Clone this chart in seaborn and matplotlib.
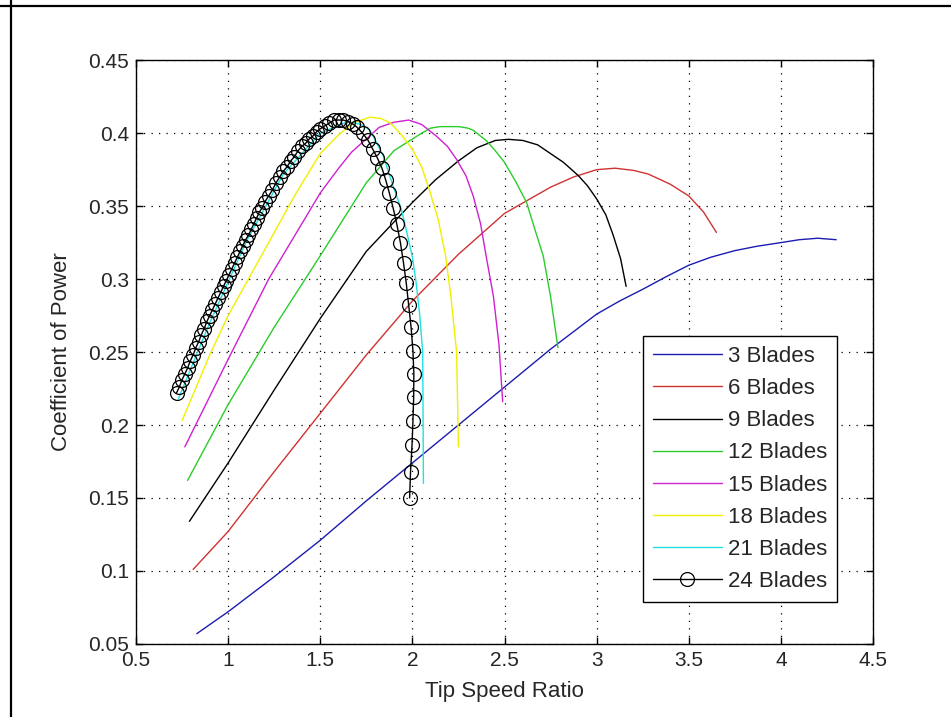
import seaborn as sns
import matplotlib
matplotlib.use("Agg")
import matplotlib.pyplot as plt
from matplotlib.lines import Line2D
import pandas as pd

# Data (tip speed ratio vs power coefficient)
tsr_3 = [0.83, 1.0, 1.25, 1.5, 1.75, 2.0, 2.25, 2.5, 2.75, 3.0, 3.125, 3.25, 3.375,
         3.5, 3.62, 3.75, 3.87, 4.0, 4.1, 4.2, 4.30]
cp_3 = [0.057, 0.072, 0.096, 0.121, 0.148, 0.174, 0.200, 0.226, 0.252, 0.276, 0.285, 0.293, 0.3015,
        0.3095, 0.315, 0.3195, 0.3225, 0.325, 0.327, 0.328, 0.327]

tsr_6 = [0.81, 1.0, 1.25, 1.5, 1.75, 2.0, 2.25, 2.5, 2.75, 2.875, 3.0, 3.1, 3.2, 3.28,
         3.4, 3.5, 3.58, 3.65]
cp_6 = [0.101, 0.127, 0.168, 0.208, 0.248, 0.285, 0.317, 0.345, 0.363, 0.370, 0.375, 0.376, 0.3745, 0.372,
        0.365, 0.357, 0.346, 0.332]

tsr_9 = [0.79, 1.0, 1.25, 1.5, 1.75, 2.0, 2.125, 2.25, 2.35, 2.45, 2.52, 2.6, 2.68, 2.75,
         2.82, 2.9, 2.95, 3.0, 3.05, 3.09, 3.13, 3.16]
cp_9 = [0.134, 0.174, 0.224, 0.273, 0.319, 0.3525, 0.368, 0.381, 0.390, 0.395, 0.3958, 0.395, 0.392, 0.386,
        0.380, 0.371, 0.364, 0.355, 0.344, 0.330, 0.314, 0.295]

tsr_12 = [0.78, 1.0, 1.25, 1.5, 1.75, 1.9, 2.0, 2.05, 2.1, 2.15, 2.25, 2.3, 2.33, 2.4,
          2.45, 2.5, 2.56, 2.62, 2.66, 2.71, 2.75, 2.79]
cp_12 = [0.162, 0.214, 0.267, 0.316, 0.366, 0.388, 0.396, 0.400, 0.4035, 0.4045, 0.4045, 0.4035, 0.402, 0.395,
         0.388, 0.380, 0.367, 0.3525, 0.336, 0.316, 0.288, 0.253]

tsr_15 = [0.765, 1.0, 1.22, 1.5, 1.6, 1.67, 1.82, 1.9, 1.98, 2.05, 2.13, 2.19, 2.24, 2.29,
          2.33, 2.37, 2.40, 2.44, 2.47, 2.49]
cp_15 = [0.185, 0.245, 0.300, 0.359, 0.376, 0.387, 0.404, 0.4075, 0.409, 0.406, 0.398, 0.391, 0.382, 0.371,
         0.357, 0.338, 0.316, 0.288, 0.255, 0.216]

tsr_18 = [0.75, 0.9, 1.0, 1.22, 1.36, 1.5, 1.6, 1.68, 1.77, 1.83, 1.88, 1.94, 2.0, 2.05,
          2.09, 2.14, 2.18, 2.21, 2.24, 2.25]
cp_18 = [0.203, 0.248, 0.275, 0.325, 0.357, 0.386, 0.399, 0.407, 0.411, 0.410, 0.407, 0.399, 0.389, 0.377,
         0.362, 0.341, 0.316, 0.287, 0.25, 0.185]

tsr_21 = [0.73, 0.9, 1.1, 1.3, 1.5, 1.65, 1.72, 1.77, 1.84, 1.9, 1.94, 1.97, 2.0, 2.02,
          2.04, 2.056, 2.06]
cp_21 = [0.218, 0.270, 0.326, 0.372, 0.400, 0.408, 0.406, 0.402, 0.385, 0.362, 0.348, 0.332, 0.315, 0.298,
         0.275, 0.250, 0.160]

tsr_24 = [0.72, 0.735, 0.75, 0.765, 0.78, 0.795, 0.81, 0.825, 0.84, 0.855, 0.87, 0.885,
          0.90, 0.915, 0.93, 0.945, 0.96, 0.975, 0.99, 1.005, 1.02, 1.035, 1.05, 1.065,
          1.08, 1.095, 1.11, 1.125, 1.14, 1.155, 1.17, 1.185, 1.20, 1.22, 1.24, 1.26,
          1.28, 1.30, 1.32, 1.34, 1.36, 1.38, 1.40, 1.42, 1.44, 1.46, 1.48, 1.50,
          1.525, 1.55, 1.575, 1.60, 1.625, 1.65, 1.68, 1.70, 1.73, 1.76, 1.785, 1.81,
          1.835, 1.855, 1.875, 1.895, 1.915, 1.935, 1.952, 1.967, 1.98, 1.993, 2.003,
          2.008, 2.007, 2.003, 1.998, 1.99, 1.985]
cp_24 = [0.222, 0.226, 0.231, 0.235, 0.239, 0.244, 0.248, 0.253, 0.257, 0.262, 0.266, 0.271,
         0.275, 0.279, 0.283, 0.287, 0.291, 0.295, 0.299, 0.303, 0.307, 0.311, 0.315, 0.319,
         0.323, 0.327, 0.330, 0.334, 0.338, 0.342, 0.346, 0.349, 0.353, 0.357, 0.361, 0.366,
         0.370, 0.374, 0.377, 0.381, 0.384, 0.388, 0.391, 0.393, 0.396, 0.398, 0.401, 0.403,
         0.405, 0.407, 0.409, 0.409, 0.409, 0.408, 0.406, 0.404, 0.400, 0.395, 0.389, 0.383,
         0.376, 0.368, 0.359, 0.349, 0.338, 0.325, 0.311, 0.297, 0.282, 0.267, 0.251,
         0.235, 0.219, 0.2025, 0.186, 0.168, 0.150]

labels = ['3 Blades', '6 Blades', '9 Blades', '12 Blades', '15 Blades',
          '18 Blades', '21 Blades', '24 Blades']
x_ticks = [0.5, 1, 1.5, 2, 2.5, 3, 3.5, 4, 4.5]
x_ticklabels = ['0.5', '1', '1.5', '2', '2.5', '3', '3.5', '4', '4.5']
y_ticks = [0.05, 0.1, 0.15, 0.2, 0.25, 0.3, 0.35, 0.4, 0.45]
y_ticklabels = ['0.05', '0.1', '0.15', '0.2', '0.25', '0.3', '0.35', '0.4', '0.45']

series = [(tsr_3, cp_3), (tsr_6, cp_6), (tsr_9, cp_9), (tsr_12, cp_12),
          (tsr_15, cp_15), (tsr_18, cp_18), (tsr_21, cp_21), (tsr_24, cp_24)]
colors = ['#1c1cb0', '#d03232', '#000000', '#2acc2a', '#d020d0', '#f0f000', '#20e0e0', '#000000']

sns.set_style("ticks")
plt.rcParams['font.family'] = ['Liberation Sans', 'DejaVu Sans']

fig = plt.figure(figsize=(9.51, 7.17), dpi=100)
ax = fig.add_axes([0.143, 0.102, 0.775, 0.814])

for (x, y), lab, col in zip(series, labels, colors):
    df = pd.DataFrame({'tsr': x, 'cp': y})
    if lab == '24 Blades':
        sns.lineplot(data=df, x='tsr', y='cp', ax=ax, sort=False, estimator=None,
                     color=col, lw=1.0, marker='o', markersize=10,
                     markerfacecolor='none', markeredgecolor='black',
                     markeredgewidth=0.9, label=lab)
    else:
        sns.lineplot(data=df, x='tsr', y='cp', ax=ax, sort=False, estimator=None,
                     color=col, lw=1.0, label=lab)

ax.set_xlim(0.5, 4.5)
ax.set_ylim(0.05, 0.45)
ax.set_xticks(x_ticks)
ax.set_xticklabels(x_ticklabels)
ax.set_yticks(y_ticks)
ax.set_yticklabels(y_ticklabels)
ax.tick_params(direction='in', length=5, width=1, top=True, right=True,
               labelsize=15, pad=5, color='black')
ax.grid(True, color='black', linestyle=(0, (1, 5)), linewidth=0.9)
for sp in ax.spines.values():
    sp.set_visible(True)
    sp.set_color('black')
    sp.set_linewidth(1.0)

ax.set_xlabel('Tip Speed Ratio', fontsize=16, labelpad=8)
ax.set_ylabel('Coefficient of Power', fontsize=16, labelpad=12)

leg = ax.legend(loc='lower right', bbox_to_anchor=(0.951, 0.072), borderaxespad=0,
                fontsize=16, frameon=True, fancybox=False, framealpha=1,
                edgecolor='black', handlelength=3.1, handletextpad=0.27,
                labelspacing=0.5, numpoints=1, borderpad=0.45)
leg.get_frame().set_linewidth(1.0)

# frame lines at top and left of the figure
fig.add_artist(Line2D([0, 1], [0.9916, 0.9916], transform=fig.transFigure, color='black', lw=1.6))
fig.add_artist(Line2D([0.0116, 0.0116], [0, 1], transform=fig.transFigure, color='black', lw=1.6))

fig.savefig('out.png', dpi=100)
